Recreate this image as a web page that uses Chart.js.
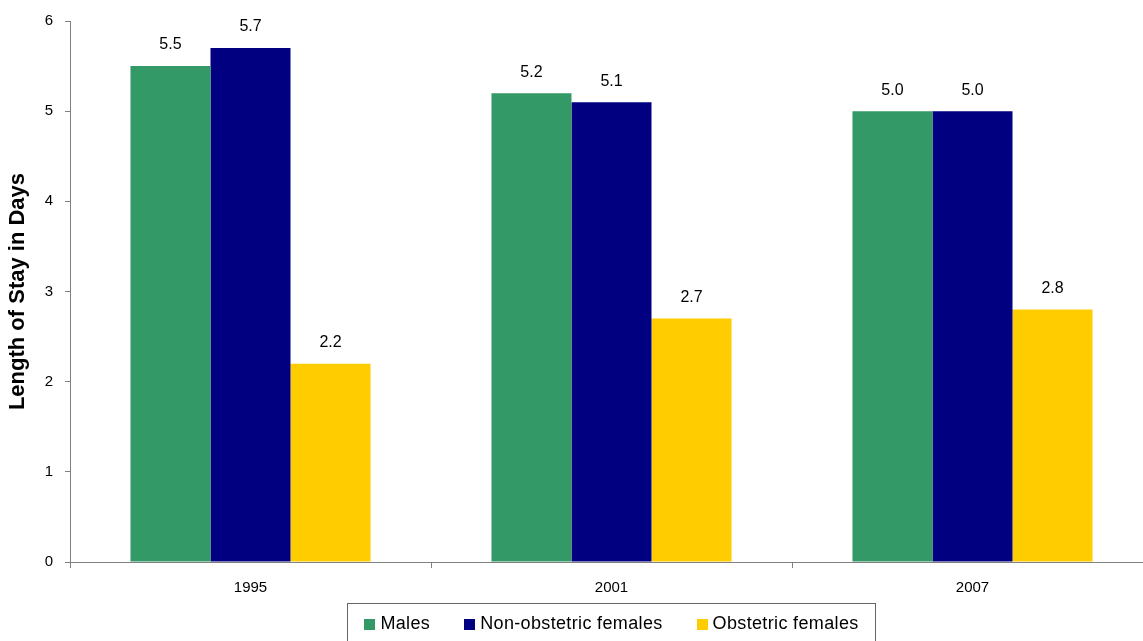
<!DOCTYPE html>
<html>
<head>
<meta charset="utf-8">
<title>Length of Stay</title>
<script src="https://cdn.jsdelivr.net/npm/chart.js@4/dist/chart.umd.min.js"></script>
<style>
  html, body { margin: 0; padding: 0; background: #fff; overflow: hidden; }
  #wrap { width: 1160px; height: 641px; }
</style>
</head>
<body>
<div id="wrap"><canvas id="stay-chart" width="1160" height="641"></canvas></div>
<script>
const years = ['1995', '2001', '2007'];
const males = [5.5, 5.2, 5.0];
const nonObstetricFemales = [5.7, 5.1, 5.0];
const obstetricFemales = [2.2, 2.7, 2.8];
const yTicks = [0, 1, 2, 3, 4, 5, 6];

const FONT = '"Liberation Sans", Arial, sans-serif';
const AXIS_GREY = '#808080';

// value printed above each bar
const barValueLabels = {
  id: 'barValueLabels',
  afterDatasetsDraw(chart) {
    const ctx = chart.ctx;
    ctx.save();
    ctx.font = '16px ' + FONT;
    ctx.fillStyle = '#000';
    ctx.textAlign = 'center';
    ctx.textBaseline = 'middle';
    chart.data.datasets.forEach((ds, i) => {
      chart.getDatasetMeta(i).data.forEach((bar, j) => {
        ctx.fillText(ds.data[j].toFixed(1), bar.x, bar.y - 21);
      });
    });
    ctx.restore();
  }
};

// boxed legend centred under the plot area
const boxedLegend = {
  id: 'boxedLegend',
  afterDraw(chart) {
    const ctx = chart.ctx;
    const area = chart.chartArea;
    const box = 11, gap = 5, spacing = 34, pad = 17;
    ctx.save();
    ctx.font = '18px ' + FONT;
    ctx.letterSpacing = '0.35px';
    const items = chart.data.datasets.map(ds => ({
      label: ds.label,
      color: ds.backgroundColor,
      w: box + gap + ctx.measureText(ds.label).width
    }));
    const total = items.reduce((s, it) => s + it.w, 0) + spacing * (items.length - 1);
    let x = (area.left + area.right) / 2 - total / 2;
    const midY = 624.5;

    ctx.strokeStyle = '#666';
    ctx.lineWidth = 1;
    ctx.strokeRect(Math.round(x - pad) + 0.5, 603.5, Math.round(total + pad * 2), 60);

    ctx.textBaseline = 'middle';
    ctx.textAlign = 'left';
    items.forEach(it => {
      ctx.fillStyle = it.color;
      ctx.fillRect(Math.round(x), midY - box / 2, box, box);
      ctx.fillStyle = '#000';
      ctx.fillText(it.label, x + box + gap, midY);
      x += it.w + spacing;
    });
    ctx.restore();
  }
};

new Chart(document.getElementById('stay-chart').getContext('2d'), {
  type: 'bar',
  data: {
    labels: years,
    datasets: [
      { label: 'Males', data: males, backgroundColor: '#339966' },
      { label: 'Non-obstetric females', data: nonObstetricFemales, backgroundColor: '#000080' },
      { label: 'Obstetric females', data: obstetricFemales, backgroundColor: '#FFCC00' }
    ]
  },
  options: {
    responsive: false,
    animation: false,
    layout: { padding: { top: 21, right: 7, bottom: 0, left: 0 } },
    datasets: {
      bar: { categoryPercentage: 0.665, barPercentage: 1.0 }
    },
    plugins: {
      legend: { display: false },
      tooltip: { enabled: false }
    },
    scales: {
      x: {
        offset: true,
        grid: {
          offset: true,
          drawOnChartArea: false,
          drawTicks: true,
          tickLength: 6,
          color: AXIS_GREY
        },
        border: { color: AXIS_GREY, width: 1 },
        ticks: { color: '#000', font: { family: FONT, size: 15 }, padding: 11 },
        afterFit(scale) { scale.height = 79; }
      },
      y: {
        min: 0,
        max: 6,
        afterBuildTicks(scale) { scale.ticks = yTicks.map(v => ({ value: v })); },
        grid: {
          drawOnChartArea: false,
          drawTicks: true,
          tickLength: 5,
          color: AXIS_GREY
        },
        border: { color: AXIS_GREY, width: 1 },
        ticks: { color: '#000', font: { family: FONT, size: 15 }, padding: 12 },
        title: {
          display: true,
          text: 'Length of Stay in Days',
          color: '#000',
          font: { family: FONT, size: 22, weight: 'bold' },
          padding: { top: 5, bottom: 0 }
        },
        afterFit(scale) { scale.width = 70; }
      }
    }
  },
  plugins: [barValueLabels, boxedLegend]
});
</script>
</body>
</html>
